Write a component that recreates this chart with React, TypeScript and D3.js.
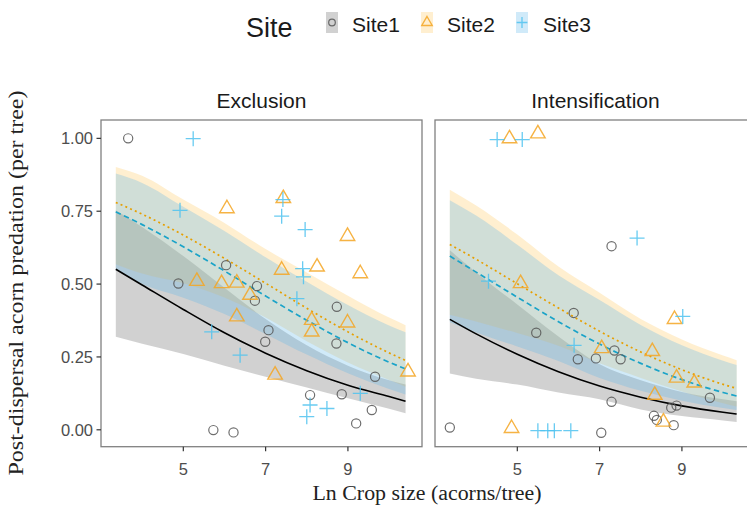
import React from "react";
import * as d3 from "d3";

// ---------- data ----------
const siteNames = ["Site1", "Site2", "Site3"];
const panelNames = ["Exclusion", "Intensification"];
const xTicks = [5, 7, 9];
const yTicks = [0, 0.25, 0.5, 0.75, 1.0];
const yTickLabels = ["0.00", "0.25", "0.50", "0.75", "1.00"];

// prediction grid (ln crop size)
const gridL = [3.36, 4, 5, 6, 7, 8, 9, 10, 10.4];
const gridR = [3.36, 4, 5, 6, 7, 8, 9, 10, 10.33];

// Exclusion fits and intervals
const s1FitL = [0.551, 0.497, 0.413, 0.333, 0.263, 0.203, 0.153, 0.114, 0.098];
const s1LoL = [0.319, 0.295, 0.26, 0.22, 0.182, 0.145, 0.108, 0.072, 0.057];
const s1HiL = [0.753, 0.696, 0.596, 0.487, 0.38, 0.29, 0.22, 0.17, 0.155];
const s2FitL = [0.78, 0.74, 0.668, 0.588, 0.503, 0.417, 0.336, 0.264, 0.238];
const s2LoL = [0.568, 0.536, 0.503, 0.454, 0.385, 0.304, 0.231, 0.171, 0.148];
const s2HiL = [0.902, 0.872, 0.79, 0.71, 0.62, 0.54, 0.46, 0.385, 0.359];
const s3FitL = [0.748, 0.704, 0.628, 0.545, 0.459, 0.376, 0.299, 0.232, 0.209];
const s3LoL = [0.548, 0.5, 0.453, 0.397, 0.329, 0.258, 0.194, 0.14, 0.121];
const s3HiL = [0.879, 0.847, 0.765, 0.682, 0.592, 0.508, 0.428, 0.358, 0.335];

// Intensification fits and intervals
const s1FitR = [0.379, 0.329, 0.259, 0.199, 0.15, 0.112, 0.082, 0.06, 0.054];
const s1LoR = [0.193, 0.175, 0.155, 0.128, 0.105, 0.07, 0.047, 0.032, 0.027];
const s1HiR = [0.616, 0.54, 0.43, 0.32, 0.225, 0.17, 0.13, 0.105, 0.098];
const s2FitR = [0.636, 0.585, 0.501, 0.418, 0.338, 0.267, 0.206, 0.156, 0.142];
const s2LoR = [0.395, 0.372, 0.332, 0.288, 0.228, 0.178, 0.131, 0.091, 0.08];
const s2HiR = [0.824, 0.77, 0.67, 0.56, 0.47, 0.38, 0.31, 0.255, 0.239];
const s3FitR = [0.596, 0.541, 0.455, 0.371, 0.294, 0.228, 0.172, 0.128, 0.116];
const s3LoR = [0.369, 0.334, 0.286, 0.236, 0.178, 0.134, 0.1, 0.075, 0.068];
const s3HiR = [0.788, 0.735, 0.635, 0.53, 0.445, 0.36, 0.29, 0.237, 0.222];

// observed points [lnCrop, predation]
const s1PtsL = [
  [3.66, 1.0], [4.88, 0.502], [6.04, 0.565], [6.79, 0.493], [6.74, 0.443],
  [7.07, 0.342], [6.99, 0.302], [8.73, 0.422], [8.72, 0.296], [9.66, 0.182],
  [8.08, 0.119], [8.85, 0.122], [9.58, 0.068], [9.2, 0.022], [5.73, -0.001],
  [6.22, -0.009],
];
const s2PtsL = [
  [6.06, 0.759], [7.43, 0.794], [8.99, 0.664], [7.39, 0.548], [8.25, 0.559],
  [9.3, 0.536], [5.33, 0.51], [5.93, 0.502], [6.3, 0.504], [6.62, 0.462],
  [6.3, 0.388], [8.12, 0.376], [8.12, 0.336], [8.99, 0.367], [7.23, 0.188],
  [10.46, 0.199],
];
const s3PtsL = [
  [5.24, 0.999], [4.92, 0.753], [7.42, 0.79], [7.39, 0.733], [7.96, 0.687],
  [7.9, 0.553], [7.92, 0.525], [7.76, 0.45], [5.69, 0.336], [6.38, 0.256],
  [8.08, 0.085], [8.0, 0.045], [8.49, 0.073], [9.3, 0.125],
];
const s1PtsR = [
  [3.36, 0.008], [5.46, 0.333], [6.37, 0.401], [6.47, 0.242], [6.91, 0.245],
  [7.36, 0.272], [7.51, 0.242], [7.29, 0.63], [7.29, 0.096], [7.04, -0.01],
  [8.32, 0.048], [8.39, 0.034], [8.74, 0.076], [8.87, 0.083], [8.8, 0.016],
  [9.68, 0.11],
];
const s2PtsR = [
  [4.81, 0.999], [5.5, 1.016], [5.08, 0.502], [4.86, 0.005], [7.05, 0.279],
  [8.28, 0.269], [8.34, 0.119], [8.82, 0.379], [8.87, 0.178], [9.3, 0.161],
  [8.55, 0.027],
];
const s3PtsR = [
  [4.51, 0.996], [5.12, 0.996], [4.3, 0.51], [6.38, 0.29], [7.91, 0.658],
  [9.02, 0.389], [5.5, -0.003], [5.74, -0.003], [5.9, -0.003], [6.3, -0.003],
];

const panelsData = [
  {
    grid: gridL,
    fits: [s1FitL, s2FitL, s3FitL],
    los: [s1LoL, s2LoL, s3LoL],
    his: [s1HiL, s2HiL, s3HiL],
    pts: [s1PtsL, s2PtsL, s3PtsL],
  },
  {
    grid: gridR,
    fits: [s1FitR, s2FitR, s3FitR],
    los: [s1LoR, s2LoR, s3LoR],
    his: [s1HiR, s2HiR, s3HiR],
    pts: [s1PtsR, s2PtsR, s3PtsR],
  },
];

// ---------- styles ----------
const W = 747;
const H = 507;
const panelLeft = [101, 435];
const panelWidth = 321;
const panelTop = 120;
const panelBottom = 446.7;
const xDomain = [3.0, 10.8];
const yDomain = [-0.058, 1.063];

const bandFill = ["#7f7f7f", "#FFBE45", "#56B4E9"];
const bandOpacity = [0.36, 0.25, 0.28];
const lineColor = ["#000000", "#E69F00", "#1AA3C8"];
const lineDash = [null, "2,3.2", "5.5,3.5"];
const ptColor = ["#555555", "#F5A623", "#4FC3F0"];

const sans = "'Liberation Sans', Arial, sans-serif";
const serif = "'Liberation Serif', 'DejaVu Serif', serif";

function Marker({ kind, x, y, color, s = 1 }) {
  if (kind === 0) {
    return <circle cx={x} cy={y} r={4.6 * s} fill="none" stroke={color} strokeWidth={1.2} opacity={0.85} />;
  }
  if (kind === 1) {
    const h = 12.5 * s;
    const w = 14.5 * s;
    const d = `M${x},${y - (2 * h) / 3} L${x + w / 2},${y + h / 3} L${x - w / 2},${y + h / 3} Z`;
    return <path d={d} fill="none" stroke={color} strokeWidth={1.4} opacity={0.85} />;
  }
  const a = 7.5 * s;
  return (
    <path d={`M${x - a},${y} H${x + a} M${x},${y - a} V${y + a}`} stroke={color} strokeWidth={1.3} opacity={0.85} />
  );
}

export default function App() {
  const y = d3.scaleLinear().domain(yDomain).range([panelBottom, panelTop]);

  return (
    <svg width={W} height={H} style={{ position: "absolute", left: 0, top: 0, background: "#fff" }}>
      <rect x={0} y={0} width={W} height={H} fill="#fff" />
      {panelsData.map((pd, pi) => {
        const x = d3.scaleLinear().domain(xDomain).range([panelLeft[pi], panelLeft[pi] + panelWidth]);
        const clipId = `clip${pi}`;
        return (
          <g key={pi}>
            <defs>
              <clipPath id={clipId}>
                <rect x={panelLeft[pi]} y={panelTop} width={panelWidth} height={panelBottom - panelTop} />
              </clipPath>
            </defs>
            <g clipPath={`url(#${clipId})`}>
              {[0, 1, 2].map((si) => {
                const area = d3
                  .area<number>()
                  .x((_, i) => x(pd.grid[i]))
                  .y0((_, i) => y(pd.los[si][i]))
                  .y1((_, i) => y(pd.his[si][i]))
                  .curve(d3.curveMonotoneX);
                return (
                  <path key={si} d={area(pd.grid) || ""} fill={bandFill[si]} fillOpacity={bandOpacity[si]} stroke="none" />
                );
              })}
              {[0, 1, 2].map((si) => {
                const line = d3
                  .line<number>()
                  .x((_, i) => x(pd.grid[i]))
                  .y((_, i) => y(pd.fits[si][i]))
                  .curve(d3.curveMonotoneX);
                return (
                  <path
                    key={si}
                    d={line(pd.grid) || ""}
                    fill="none"
                    stroke={lineColor[si]}
                    strokeWidth={si === 0 ? 1.6 : 1.7}
                    strokeDasharray={lineDash[si] || undefined}
                  />
                );
              })}
              {[0, 1, 2].map((si) =>
                pd.pts[si].map((p, k) => (
                  <Marker key={`${si}-${k}`} kind={si} x={x(p[0])} y={y(p[1])} color={ptColor[si]} />
                ))
              )}
            </g>
            <rect
              x={panelLeft[pi]}
              y={panelTop}
              width={panelWidth}
              height={panelBottom - panelTop}
              fill="none"
              stroke="#808080"
              strokeWidth={1.3}
            />
            <text
              x={panelLeft[pi] + panelWidth / 2}
              y={108}
              textAnchor="middle"
              fontFamily={sans}
              fontSize={21}
              fill="#1a1a1a"
            >
              {panelNames[pi]}
            </text>
            {xTicks.map((t) => (
              <g key={t}>
                <line x1={x(t)} x2={x(t)} y1={panelBottom} y2={panelBottom + 4.5} stroke="#333" strokeWidth={1.2} />
                <text x={x(t)} y={475} textAnchor="middle" fontFamily={sans} fontSize={16.5} fill="#4d4d4d">
                  {t}
                </text>
              </g>
            ))}
          </g>
        );
      })}
      {yTicks.map((t, i) => (
        <g key={t}>
          <line x1={panelLeft[0] - 4.5} x2={panelLeft[0]} y1={y(t)} y2={y(t)} stroke="#333" strokeWidth={1.2} />
          <text
            x={panelLeft[0] - 8}
            y={y(t)}
            dy="0.36em"
            textAnchor="end"
            fontFamily={sans}
            fontSize={16.5}
            fill="#4d4d4d"
          >
            {yTickLabels[i]}
          </text>
        </g>
      ))}
      <text
        transform={`translate(23, 283) rotate(-90)`}
        textAnchor="middle"
        fontFamily={serif}
        fontSize={20.5}
        fill="#222"
        textLength={385}
        lengthAdjust="spacingAndGlyphs"
      >
        Post-dispersal acorn predation (per tree)
      </text>
      <text
        x={427}
        y={500}
        textAnchor="middle"
        fontFamily={serif}
        fontSize={20}
        fill="#222"
        textLength={229}
        lengthAdjust="spacingAndGlyphs"
      >
        Ln Crop size (acorns/tree)
      </text>
      {/* legend */}
      <text x={246} y={37} fontFamily={sans} fontSize={27} fill="#1a1a1a">
        Site
      </text>
      {siteNames.map((nm, si) => {
        const kx = [326, 421, 516][si];
        const tx = [352, 447, 543][si];
        return (
          <g key={nm}>
            <rect x={kx} y={12} width={12} height={21} fill={bandFill[si]} fillOpacity={bandOpacity[si]} />
            <Marker kind={si} x={kx + 6} y={22.5} color={ptColor[si]} s={0.72} />
            <text x={tx} y={32} fontFamily={sans} fontSize={21} fill="#1a1a1a">
              {nm}
            </text>
          </g>
        );
      })}
    </svg>
  );
}
